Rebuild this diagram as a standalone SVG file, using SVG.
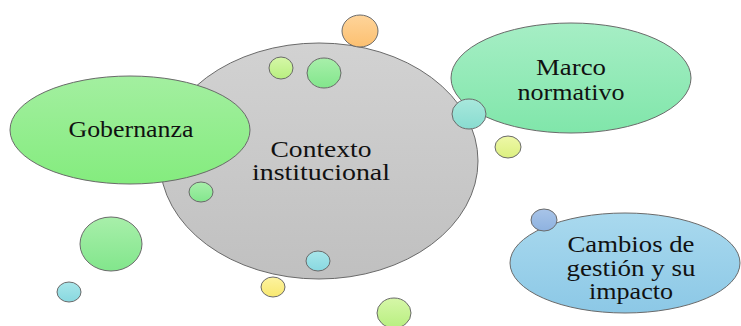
<svg xmlns="http://www.w3.org/2000/svg" width="741" height="326" viewBox="0 0 741 326">
<defs>
<linearGradient id="gGray" x1="0" y1="0" x2="0" y2="1"><stop offset="0" stop-color="#d2d2d2"/><stop offset="1" stop-color="#c0c0c0"/></linearGradient>
<linearGradient id="gGob" x1="0" y1="0" x2="0" y2="1"><stop offset="0" stop-color="#a3efa0"/><stop offset="1" stop-color="#84ec7e"/></linearGradient>
<linearGradient id="gMarco" x1="0" y1="0" x2="0" y2="1"><stop offset="0" stop-color="#a6eec5"/><stop offset="1" stop-color="#80e6aa"/></linearGradient>
<linearGradient id="gCamb" x1="0" y1="0" x2="0" y2="1"><stop offset="0" stop-color="#a9d9ee"/><stop offset="1" stop-color="#8cc8e6"/></linearGradient>
<linearGradient id="gOrange" x1="0" y1="0" x2="0" y2="1"><stop offset="0" stop-color="#fed49a"/><stop offset="1" stop-color="#fcc070"/></linearGradient>
<linearGradient id="gLime" x1="0" y1="0" x2="0" y2="1"><stop offset="0" stop-color="#d6f7a8"/><stop offset="1" stop-color="#b8ef80"/></linearGradient>
<linearGradient id="gGreen" x1="0" y1="0" x2="0" y2="1"><stop offset="0" stop-color="#a8efaa"/><stop offset="1" stop-color="#82e68c"/></linearGradient>
<linearGradient id="gTeal" x1="0" y1="0" x2="0" y2="1"><stop offset="0" stop-color="#a8e8dc"/><stop offset="1" stop-color="#88dcd0"/></linearGradient>
<linearGradient id="gCyan" x1="0" y1="0" x2="0" y2="1"><stop offset="0" stop-color="#a8e6ea"/><stop offset="1" stop-color="#88d8e0"/></linearGradient>
<linearGradient id="gYel" x1="0" y1="0" x2="0" y2="1"><stop offset="0" stop-color="#fdf3a0"/><stop offset="1" stop-color="#f8e870"/></linearGradient>
<linearGradient id="gYG" x1="0" y1="0" x2="0" y2="1"><stop offset="0" stop-color="#eef8a8"/><stop offset="1" stop-color="#dcf080"/></linearGradient>
<linearGradient id="gBlue" x1="0" y1="0" x2="0" y2="1"><stop offset="0" stop-color="#a8c4e8"/><stop offset="1" stop-color="#8eb2e0"/></linearGradient>
</defs>
<style>
.sh{stroke:#6a6a6a;stroke-width:1}
.t{font-family:"Liberation Serif","Times New Roman",serif;font-size:23px;fill:#111;text-anchor:middle}
</style>
<rect width="741" height="326" fill="#ffffff"/>
<g id="connectors"></g>
<g id="contexto">
<ellipse class="sh" cx="319" cy="161" rx="159" ry="118" fill="url(#gGray)"/>
<text class="t" x="321" y="157" textLength="101" lengthAdjust="spacingAndGlyphs">Contexto</text>
<text class="t" x="321" y="180" textLength="138" lengthAdjust="spacingAndGlyphs">institucional</text>
</g>
<g id="gobernanza">
<ellipse class="sh" cx="130" cy="130" rx="120" ry="54" fill="url(#gGob)"/>
<text class="t" x="131" y="137" textLength="125" lengthAdjust="spacingAndGlyphs">Gobernanza</text>
</g>
<g id="marco">
<ellipse class="sh" cx="571" cy="78" rx="120" ry="55" fill="url(#gMarco)"/>
<text class="t" x="571" y="75" textLength="70" lengthAdjust="spacingAndGlyphs">Marco</text>
<text class="t" x="571" y="100" textLength="107" lengthAdjust="spacingAndGlyphs">normativo</text>
</g>
<g id="cambios">
<ellipse class="sh" cx="625" cy="263" rx="115" ry="50" fill="url(#gCamb)"/>
<text class="t" x="631" y="252" textLength="127" lengthAdjust="spacingAndGlyphs">Cambios de</text>
<text class="t" x="631" y="276" textLength="129" lengthAdjust="spacingAndGlyphs">gestión y su</text>
<text class="t" x="631" y="299" textLength="84" lengthAdjust="spacingAndGlyphs">impacto</text>
</g>
<g id="bubbles">
<ellipse class="sh" cx="360" cy="31" rx="18" ry="16" fill="url(#gOrange)"/>
<ellipse class="sh" cx="281" cy="68" rx="12" ry="11" fill="url(#gLime)"/>
<ellipse class="sh" cx="324" cy="73" rx="17" ry="15" fill="url(#gGreen)"/>
<ellipse class="sh" cx="469" cy="114" rx="17" ry="15" fill="url(#gTeal)"/>
<ellipse class="sh" cx="508" cy="147" rx="13" ry="11" fill="url(#gYG)"/>
<ellipse class="sh" cx="201" cy="192" rx="12" ry="10" fill="url(#gGreen)"/>
<ellipse class="sh" cx="111" cy="244" rx="31" ry="27" fill="url(#gGreen)"/>
<ellipse class="sh" cx="69" cy="292" rx="12" ry="10" fill="url(#gCyan)"/>
<ellipse class="sh" cx="318" cy="261" rx="12" ry="10" fill="url(#gCyan)"/>
<ellipse class="sh" cx="273" cy="287" rx="12" ry="10" fill="url(#gYel)"/>
<ellipse class="sh" cx="394" cy="313" rx="17" ry="15" fill="url(#gLime)"/>
<ellipse class="sh" cx="544" cy="220" rx="13" ry="11" fill="url(#gBlue)"/>
</g>
</svg>
